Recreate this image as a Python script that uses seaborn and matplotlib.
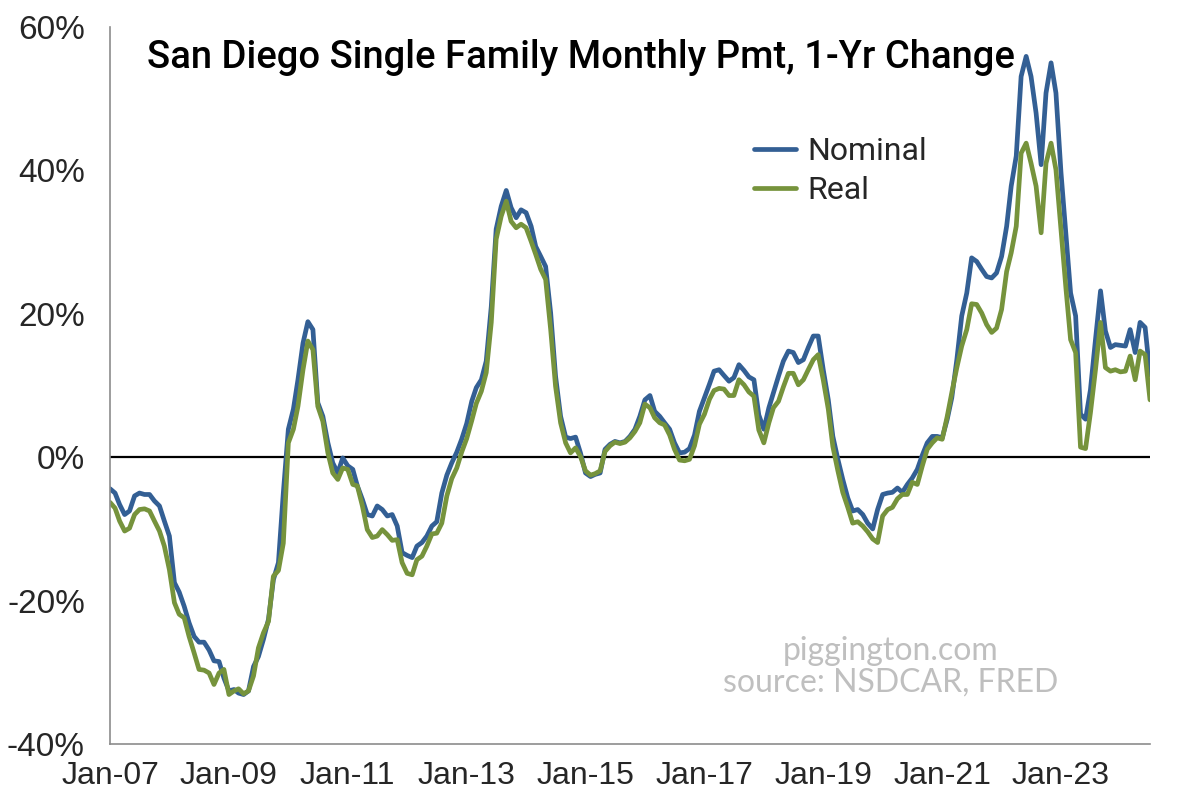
import numpy as np
import pandas as pd
import seaborn as sns
import matplotlib.pyplot as plt
import matplotlib.dates as mdates
from matplotlib import font_manager
from matplotlib.ticker import FuncFormatter, MultipleLocator

sns.set_style("white")

# narrow font for ticks if present
names = {f.name for f in font_manager.fontManager.ttflist}
tick_font = "Liberation Sans Narrow" if "Liberation Sans Narrow" in names else "Liberation Sans"
plt.rcParams["font.family"] = ["Liberation Sans", "DejaVu Sans"]

# monthly 1-yr change, Jan-2007 .. Jul-2024 (%)
nominal = [
    -4.4, -5.0, -6.6, -8.0, -7.5, -5.4, -5.0, -5.2, -5.2, -6.1, -6.8, -8.9,
    -11.0, -17.5, -18.8, -20.8, -23.1, -25.0, -25.8, -25.8, -26.9, -28.4, -28.5, -30.8,
    -32.6, -32.4, -32.9, -33.1, -32.6, -29.2, -27.8, -25.4, -22.6, -17.1, -14.7, -5.0,
    3.9, 6.7, 10.8, 15.9, 18.9, 17.8, 7.6, 5.7, 2.0, -0.8, -2.2, -0.1,
    -1.2, -1.7, -4.0, -5.9, -8.0, -8.2, -6.8, -7.3, -8.2, -8.0, -9.6, -13.3,
    -13.7, -14.0, -12.4, -11.9, -11.0, -9.6, -9.0, -5.0, -2.5, -0.8, 0.7, 2.5,
    4.7, 7.8, 9.7, 10.8, 13.4, 21.0, 31.8, 35.0, 37.2, 34.8, 33.4, 34.5,
    34.1, 32.2, 29.4, 28.0, 26.6, 20.1, 11.3, 5.7, 2.8, 2.6, 2.8, 0.6,
    -2.2, -2.7, -2.4, -2.2, 1.1, 1.8, 2.2, 2.0, 2.2, 2.9, 3.9, 5.7,
    8.0, 8.6, 6.4, 5.7, 4.8, 3.9, 2.0, 0.6, 0.7, 1.2, 3.1, 6.4,
    8.3, 10.2, 12.0, 12.2, 11.4, 10.6, 11.1, 12.9, 12.1, 11.2, 10.8, 5.9,
    3.9, 6.9, 9.0, 11.3, 13.4, 14.8, 14.6, 13.2, 13.6, 15.3, 16.9, 16.9,
    12.2, 8.0, 2.9, -0.3, -3.1, -5.7, -7.5, -7.3, -8.0, -9.2, -10.0, -7.3,
    -5.2, -5.0, -4.9, -4.3, -4.9, -3.8, -2.9, -1.7, 0.3, 2.0, 2.9, 2.9,
    2.7, 5.3, 8.3, 13.6, 19.7, 22.9, 27.8, 27.3, 26.2, 25.2, 25.0, 25.7,
    28.0, 32.2, 37.8, 42.0, 53.1, 55.9, 53.1, 48.0, 40.8, 50.8, 55.0, 50.8,
    39.7, 30.8, 22.9, 19.7, 6.0, 5.3, 9.4, 16.4, 23.2, 17.6, 15.3, 15.7,
    15.6, 15.5, 17.8, 14.6, 18.8, 18.1, 11.5,
]
real = [
    -6.3, -7.1, -8.9, -10.3, -9.9, -8.0, -7.3, -7.2, -7.5, -8.9, -10.3, -12.4,
    -15.7, -20.3, -21.9, -22.4, -25.0, -27.3, -29.6, -29.7, -30.1, -31.7, -30.1, -29.6,
    -33.1, -32.6, -32.3, -33.0, -32.6, -30.5, -26.6, -24.5, -22.9, -16.6, -15.8, -12.0,
    2.0, 3.9, 7.1, 12.2, 16.2, 15.0, 7.1, 5.0, 0.6, -2.2, -3.1, -1.5,
    -1.7, -3.8, -4.0, -6.8, -10.1, -11.2, -11.0, -10.1, -10.8, -11.6, -11.5, -14.7,
    -16.2, -16.4, -14.3, -13.8, -12.4, -10.7, -10.6, -9.2, -5.4, -3.0, -1.5, 0.7,
    2.6, 5.1, 7.5, 9.2, 11.8, 18.8, 30.4, 33.6, 35.7, 32.9, 32.0, 32.5,
    32.0, 30.1, 28.3, 26.2, 24.8, 17.8, 9.9, 4.8, 2.0, 0.6, 1.3, 0.1,
    -1.9, -2.5, -2.3, -1.9, 0.8, 1.6, 2.1, 1.9, 2.1, 2.7, 3.6, 4.8,
    7.4, 6.9, 5.5, 4.8, 4.5, 3.1, 1.1, -0.4, -0.5, -0.3, 1.6, 4.6,
    6.0, 8.1, 9.3, 9.6, 9.5, 8.6, 8.6, 10.8, 10.1, 9.1, 8.5, 3.8,
    2.0, 4.8, 6.9, 7.8, 9.8, 11.7, 11.7, 10.1, 10.8, 12.2, 13.6, 14.3,
    10.8, 6.7, 1.5, -1.9, -4.9, -7.0, -9.2, -9.0, -9.6, -10.4, -11.4, -11.9,
    -8.2, -7.3, -7.0, -5.8, -5.2, -5.2, -3.5, -3.8, -1.2, 1.1, 2.0, 2.7,
    2.5, 5.7, 9.0, 12.5, 15.5, 17.8, 21.4, 21.3, 20.1, 18.5, 17.4, 18.0,
    20.6, 25.9, 28.5, 32.2, 42.4, 43.8, 41.0, 37.8, 31.3, 41.0, 43.8, 40.1,
    31.8, 23.4, 16.4, 14.6, 1.4, 1.2, 6.2, 12.2, 18.8, 12.5, 12.0, 12.2,
    11.9, 12.0, 14.1, 10.8, 14.8, 14.3, 8.0,
]
months = pd.date_range("2007-01-01", periods=len(nominal), freq="MS")

df = pd.concat([
    pd.DataFrame({"date": months, "pct": nominal, "series": "Nominal"}),
    pd.DataFrame({"date": months, "pct": real, "series": "Real"}),
])

fig = plt.figure(figsize=(12, 8.01), dpi=100)
ax = fig.add_axes([110 / 1200, 57 / 801, 1040 / 1200, 717 / 801])

palette = {"Nominal": "#335F94", "Real": "#76933C"}
sns.lineplot(data=df, x="date", y="pct", hue="series", palette=palette,
             linewidth=3.4, ax=ax)

ax.axhline(0, color="black", linewidth=1.6, zorder=1)

ax.set_xlim(months[0], months[-1])
ax.set_ylim(-40, 60)
ax.set_xlabel("")
ax.set_ylabel("")

ax.yaxis.set_major_locator(MultipleLocator(20))
ax.yaxis.set_major_formatter(FuncFormatter(lambda v, p: f"{v:.0f}%"))

major = pd.date_range("2007-01-01", "2023-01-01", freq="24MS")
minor = pd.date_range("2008-01-01", "2024-01-01", freq="24MS")
ax.set_xticks(major)
ax.set_xticks(minor, minor=True)
ax.xaxis.set_major_formatter(mdates.DateFormatter("%b-%y"))

for s in ["top", "right"]:
    ax.spines[s].set_visible(False)
for s in ["left", "bottom"]:
    ax.spines[s].set_color("#8C8C8C")
    ax.spines[s].set_linewidth(1.2)

ax.tick_params(axis="x", which="major", direction="inout", length=14, width=1,
               color="#8C8C8C", pad=5)
ax.tick_params(axis="x", which="minor", direction="in", length=7, width=1,
               color="#BFBFBF")
ax.tick_params(axis="y", which="major", direction="out", length=5, width=1,
               color="#BFBFBF", pad=13)
for lab in ax.get_yticklabels():
    lab.set_fontfamily(tick_font)
    lab.set_fontsize(24)
for lab in ax.get_xticklabels():
    lab.set_fontfamily(tick_font)
    lab.set_fontsize(23)

ax.text(0.036, 0.958, "San Diego Single Family Monthly Pmt, 1-Yr Change",
        transform=ax.transAxes, ha="left", va="center", fontsize=27.5,
        family=["Roboto", "DejaVu Sans"], fontweight="medium", color="black")

handles, labels = ax.get_legend_handles_labels()
ax.legend(handles, labels, loc="upper left", bbox_to_anchor=(0.592, 0.886),
          frameon=False, handlelength=1.3, handletextpad=0.35,
          labelspacing=0.3, prop={"family": "Roboto", "size": 23})

ax.text(0.751, 0.108, "piggington.com\nsource: NSDCAR, FRED",
        transform=ax.transAxes, ha="center", va="center", fontsize=23,
        family=["Lato", "Liberation Sans"], color="#BFBFBF", linespacing=1.05)

fig.savefig("out.png", dpi=100)
plt.close(fig)
